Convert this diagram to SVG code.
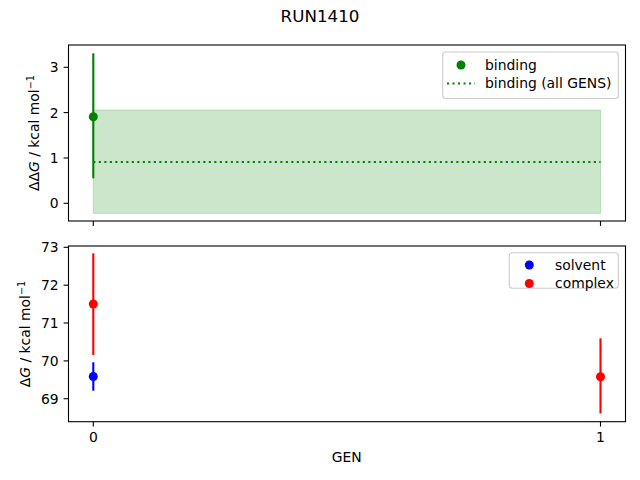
<svg xmlns="http://www.w3.org/2000/svg" width="640" height="480" viewBox="0 0 640 480">
<style>
text{font-family:"DejaVu Sans","Liberation Sans",sans-serif;fill:#000}
.t{font-size:13.9px}
.r{text-anchor:end}
.m{text-anchor:middle}
.spine{fill:none;stroke:#000;stroke-width:1.1}
.tick{stroke:#000;stroke-width:1.1}
.leg{fill:#fff;fill-opacity:0.8;stroke:#ccc;stroke-width:1.1}
.eb{stroke-width:2.1}
</style>
<rect width="640" height="480" fill="#fff"/>
<text x="320" y="21.8" class="m" style="font-size:16.7px">RUN1410</text>

<g id="top-axes">
<rect x="93.3" y="110" width="507.2" height="103.3" fill="#008000" fill-opacity="0.2" stroke="#008000" stroke-opacity="0.2"/>
<line x1="93.3" y1="162" x2="600.5" y2="162" stroke="#008000" stroke-width="2.1" stroke-dasharray="2.1,3.4"/>
<line x1="93.3" y1="53.3" x2="93.3" y2="178.3" stroke="#008000" class="eb"/>
<circle cx="93.3" cy="116.7" r="4.5" fill="#008000"/>
<rect x="68.5" y="45" width="557" height="176" class="spine"/>
<g class="tick">
<line x1="68.5" y1="203.3" x2="63.6" y2="203.3"/>
<line x1="68.5" y1="158" x2="63.6" y2="158"/>
<line x1="68.5" y1="112.6" x2="63.6" y2="112.6"/>
<line x1="68.5" y1="67.3" x2="63.6" y2="67.3"/>
<line x1="93.3" y1="221" x2="93.3" y2="225.9"/>
<line x1="600.5" y1="221" x2="600.5" y2="225.9"/>
</g>
<text x="58.7" y="208.3" class="t r">0</text>
<text x="58.7" y="163" class="t r">1</text>
<text x="58.7" y="117.6" class="t r">2</text>
<text x="58.7" y="72.3" class="t r">3</text>
<text transform="translate(38.5,133) rotate(-90)" class="t m">ΔΔ<tspan font-style="italic">G</tspan> / kcal mol<tspan dy="-5" style="font-size:9.7px">−1</tspan></text>
<g id="legend-top">
<rect x="442.7" y="52" width="175.6" height="46.5" rx="3" class="leg"/>
<circle cx="461" cy="65" r="4.5" fill="#008000"/>
<line x1="447" y1="83.5" x2="475" y2="83.5" stroke="#008000" stroke-width="2.1" stroke-dasharray="2.1,3.4"/>
<text x="485" y="69.5" class="t">binding</text>
<text x="485" y="88" class="t">binding (all GENS)</text>
</g>
</g>

<g id="bottom-axes">
<line x1="93.3" y1="253.3" x2="93.3" y2="355" stroke="#ff0000" class="eb"/>
<circle cx="93.3" cy="304" r="4.5" fill="#ff0000"/>
<line x1="93.3" y1="362.3" x2="93.3" y2="390.7" stroke="#0000ff" class="eb"/>
<circle cx="93.3" cy="376.5" r="4.5" fill="#0000ff"/>
<line x1="600.5" y1="338.3" x2="600.5" y2="413.3" stroke="#ff0000" class="eb"/>
<circle cx="600.5" cy="376.7" r="4.5" fill="#ff0000"/>
<rect x="68.5" y="246" width="557" height="175.7" class="spine"/>
<g class="tick">
<line x1="68.5" y1="398.7" x2="63.6" y2="398.7"/>
<line x1="68.5" y1="360.9" x2="63.6" y2="360.9"/>
<line x1="68.5" y1="323" x2="63.6" y2="323"/>
<line x1="68.5" y1="285.2" x2="63.6" y2="285.2"/>
<line x1="68.5" y1="247.3" x2="63.6" y2="247.3"/>
<line x1="93.3" y1="421.7" x2="93.3" y2="426.6"/>
<line x1="600.5" y1="421.7" x2="600.5" y2="426.6"/>
</g>
<text x="58.7" y="403.7" class="t r">69</text>
<text x="58.7" y="365.9" class="t r">70</text>
<text x="58.7" y="328" class="t r">71</text>
<text x="58.7" y="290.2" class="t r">72</text>
<text x="58.7" y="252.3" class="t r">73</text>
<text x="93.3" y="441.7" class="t m">0</text>
<text x="600.5" y="441.7" class="t m">1</text>
<text x="346.8" y="462" class="t m">GEN</text>
<text transform="translate(29.5,334) rotate(-90)" class="t m">Δ<tspan font-style="italic">G</tspan> / kcal mol<tspan dy="-5" style="font-size:9.7px">−1</tspan></text>
<g id="legend-bottom">
<rect x="509.3" y="252.7" width="109" height="35.6" rx="3" class="leg"/>
<circle cx="529.3" cy="265" r="4.5" fill="#0000ff"/>
<circle cx="529.3" cy="283.5" r="4.5" fill="#ff0000"/>
<text x="555" y="269.5" class="t">solvent</text>
<text x="555" y="288" class="t">complex</text>
</g>
</g>
</svg>
